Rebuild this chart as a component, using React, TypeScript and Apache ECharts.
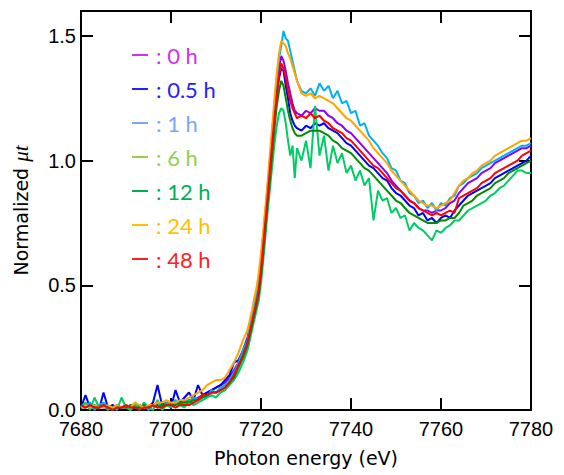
import React, { useEffect, useRef } from "react";
import * as echarts from "echarts";

// Photon energy grid (eV)
const energyPre = [7680, 7681, 7682, 7683, 7684, 7685, 7686, 7687, 7688, 7689, 7690, 7691, 7692, 7693, 7694, 7695, 7696, 7697, 7698, 7699, 7700, 7701, 7702, 7703, 7704, 7705, 7706, 7707, 7708, 7709, 7710, 7711, 7712, 7713, 7714, 7715, 7716, 7717];
const energyEdge = [7717.5, 7718, 7718.5, 7719, 7719.5, 7720, 7720.5, 7721, 7721.5, 7722, 7722.5, 7723, 7723.5, 7724, 7724.5, 7725, 7725.5, 7726, 7726.5, 7727, 7727.5, 7728];
const energyPost = [7729, 7730, 7731, 7732, 7733, 7734, 7735, 7736, 7737, 7738, 7739, 7740, 7741, 7742, 7743, 7744, 7745, 7746, 7747, 7748, 7749, 7750, 7751, 7752, 7753, 7754, 7755, 7756, 7757, 7758, 7759, 7760, 7761, 7762, 7763, 7764, 7765, 7766, 7767, 7768, 7769, 7770, 7771, 7772, 7773, 7774, 7775, 7776, 7777, 7778, 7779, 7780];
const energies = [...energyPre, ...energyEdge, ...energyPost];

const seriesNames = ["0 h", "0.5 h", "1 h", "6 h", "12 h", "24 h", "48 h"];
const lineColors = ["#8A00FF", "#0000FF", "#00B0F0", "#00CC66", "#008C00", "#FFA500", "#FF0000"];
const legendColors = ["#CC33EE", "#2222FF", "#77A6FF", "#92D050", "#00B050", "#FFC000", "#FF2020"];

const mu0h = [
  0.01, 0.02, 0.01, 0.01, 0.02, 0.01, 0.01, 0.02, 0.01, 0.01,
  0.01, 0.02, 0.01, 0.01, 0.02, 0.01, 0.02, 0.02, 0.02, 0.03,
  0.02, 0.03, 0.03, 0.03, 0.04, 0.04, 0.05, 0.06, 0.07, 0.08,
  0.09, 0.10, 0.11, 0.13, 0.16, 0.19, 0.23, 0.28,
  0.32, 0.36, 0.40, 0.44, 0.49, 0.57, 0.67, 0.77, 0.87, 0.98, 1.09, 1.20, 1.29, 1.37, 1.42, 1.40, 1.36, 1.31, 1.27, 1.23, 1.20, 1.19,
  1.18, 1.20, 1.19, 1.21, 1.20, 1.20, 1.18, 1.17, 1.15, 1.14,
  1.12, 1.11, 1.09, 1.07, 1.05, 1.03, 1.01, 0.99, 0.97, 0.95,
  0.92, 0.90, 0.88, 0.86, 0.84, 0.83, 0.81, 0.80, 0.80, 0.79,
  0.80, 0.80, 0.81, 0.83, 0.84, 0.87, 0.89, 0.91, 0.92, 0.93,
  0.95, 0.96, 0.97, 0.99, 1.00, 1.01, 1.02, 1.03, 1.04, 1.05,
  1.05, 1.06,
];
const mu05h = [
  0.01, 0.06, 0.01, 0.02, 0.00, 0.07, 0.01, 0.02, 0.00, 0.01,
  0.02, 0.00, 0.01, 0.02, 0.00, 0.01, 0.03, 0.10, 0.02, 0.03,
  0.01, 0.08, 0.03, 0.05, 0.07, 0.04, 0.10, 0.06, 0.07, 0.08,
  0.09, 0.10, 0.12, 0.14, 0.19, 0.20, 0.24, 0.29,
  0.33, 0.37, 0.41, 0.45, 0.50, 0.58, 0.68, 0.78, 0.88, 0.98, 1.08, 1.18, 1.27, 1.33, 1.37, 1.36, 1.30, 1.25, 1.19, 1.16, 1.14, 1.13,
  1.12, 1.14, 1.13, 1.15, 1.14, 1.15, 1.13, 1.12, 1.11, 1.09,
  1.07, 1.06, 1.04, 1.02, 1.00, 0.98, 0.97, 0.95, 0.93, 0.92,
  0.89, 0.87, 0.86, 0.84, 0.82, 0.81, 0.78, 0.79, 0.76, 0.77,
  0.75, 0.77, 0.78, 0.77, 0.80, 0.82, 0.84, 0.86, 0.87, 0.88,
  0.89, 0.90, 0.91, 0.93, 0.94, 0.95, 0.96, 0.97, 0.98, 0.99,
  1.00, 1.02,
];
const mu1h = [
  0.02, 0.01, 0.03, 0.00, 0.02, 0.03, 0.01, 0.00, 0.02, 0.01,
  0.02, 0.00, 0.03, 0.01, 0.02, 0.00, 0.02, 0.03, 0.01, 0.03,
  0.02, 0.04, 0.02, 0.04, 0.03, 0.05, 0.04, 0.06, 0.05, 0.08,
  0.07, 0.09, 0.10, 0.12, 0.15, 0.19, 0.24, 0.28,
  0.33, 0.37, 0.42, 0.46, 0.52, 0.60, 0.70, 0.80, 0.90, 1.00, 1.12, 1.23, 1.33, 1.41, 1.46, 1.52, 1.49, 1.48, 1.44, 1.40, 1.36, 1.32,
  1.28, 1.27, 1.29, 1.26, 1.31, 1.28, 1.30, 1.25, 1.28, 1.23,
  1.24, 1.19, 1.20, 1.14, 1.15, 1.10, 1.08, 1.06, 1.03, 1.01,
  0.97, 0.96, 0.92, 0.91, 0.87, 0.86, 0.83, 0.84, 0.81, 0.83,
  0.80, 0.83, 0.82, 0.85, 0.86, 0.90, 0.91, 0.93, 0.94, 0.95,
  0.97, 0.98, 0.99, 1.00, 1.01, 1.02, 1.03, 1.04, 1.05, 1.06,
  1.06, 1.07,
];
const mu6h = [
  0.01, 0.03, 0.00, 0.05, 0.01, 0.02, 0.00, 0.01, 0.00, 0.05,
  0.01, 0.00, 0.02, 0.00, 0.03, 0.01, 0.00, 0.04, 0.00, 0.02,
  0.01, 0.03, 0.02, 0.01, 0.04, 0.02, 0.03, 0.04, 0.05, 0.06,
  0.05, 0.07, 0.08, 0.10, 0.12, 0.15, 0.19, 0.24,
  0.28, 0.32, 0.36, 0.40, 0.44, 0.51, 0.60, 0.70, 0.80, 0.89, 0.98, 1.07, 1.14, 1.19, 1.21, 1.20, 1.15, 1.08, 1.02, 1.06, 0.93, 1.05,
  1.00, 1.08, 0.97, 1.22, 1.02, 1.10, 0.96, 1.06, 0.99, 1.03,
  0.95, 0.98, 0.92, 0.96, 0.90, 0.93, 0.76, 0.88, 0.84, 0.85,
  0.79, 0.81, 0.77, 0.78, 0.72, 0.75, 0.73, 0.72, 0.70, 0.68,
  0.72, 0.71, 0.73, 0.74, 0.76, 0.76, 0.78, 0.80, 0.81, 0.82,
  0.83, 0.84, 0.86, 0.87, 0.89, 0.90, 0.92, 0.94, 0.96, 0.96,
  0.95, 0.95,
];
const mu12h = [
  0.01, 0.01, 0.02, 0.01, 0.01, 0.02, 0.01, 0.01, 0.02, 0.01,
  0.01, 0.02, 0.01, 0.01, 0.02, 0.01, 0.02, 0.01, 0.02, 0.02,
  0.02, 0.02, 0.03, 0.03, 0.03, 0.04, 0.04, 0.05, 0.06, 0.07,
  0.07, 0.08, 0.09, 0.11, 0.13, 0.17, 0.21, 0.26,
  0.30, 0.34, 0.38, 0.42, 0.46, 0.54, 0.63, 0.73, 0.83, 0.93, 1.03, 1.13, 1.22, 1.28, 1.32, 1.30, 1.25, 1.20, 1.16, 1.13, 1.11, 1.10,
  1.10, 1.11, 1.12, 1.12, 1.12, 1.11, 1.10, 1.08, 1.07, 1.05,
  1.04, 1.03, 1.01, 0.99, 0.97, 0.96, 0.94, 0.92, 0.90, 0.88,
  0.86, 0.84, 0.83, 0.81, 0.79, 0.78, 0.77, 0.76, 0.75, 0.75,
  0.75, 0.76, 0.76, 0.77, 0.77, 0.79, 0.82, 0.83, 0.84, 0.86,
  0.87, 0.88, 0.89, 0.91, 0.92, 0.93, 0.95, 0.96, 0.97, 0.98,
  0.99, 1.00,
];
const mu24h = [
  0.01, 0.02, 0.01, 0.02, 0.01, 0.01, 0.02, 0.01, 0.02, 0.01,
  0.02, 0.01, 0.03, 0.02, 0.01, 0.02, 0.02, 0.03, 0.03, 0.04,
  0.03, 0.03, 0.04, 0.04, 0.05, 0.06, 0.07, 0.08, 0.10, 0.11,
  0.12, 0.12, 0.13, 0.16, 0.19, 0.23, 0.28, 0.32,
  0.36, 0.40, 0.45, 0.49, 0.55, 0.63, 0.72, 0.82, 0.92, 1.03, 1.14, 1.25, 1.35, 1.43, 1.48, 1.47, 1.46, 1.43, 1.41, 1.38, 1.35, 1.32,
  1.27, 1.26, 1.27, 1.25, 1.26, 1.25, 1.24, 1.23, 1.21, 1.19,
  1.17, 1.16, 1.14, 1.12, 1.10, 1.08, 1.05, 1.03, 1.01, 0.99,
  0.96, 0.94, 0.92, 0.90, 0.88, 0.86, 0.84, 0.83, 0.82, 0.82,
  0.81, 0.82, 0.83, 0.84, 0.87, 0.90, 0.92, 0.93, 0.95, 0.96,
  0.98, 0.99, 1.00, 1.02, 1.03, 1.04, 1.05, 1.06, 1.07, 1.08,
  1.08, 1.09,
];
const mu48h = [
  0.02, 0.01, 0.02, 0.01, 0.01, 0.02, 0.01, 0.00, 0.01, 0.01,
  0.02, 0.01, 0.01, 0.00, 0.01, 0.01, 0.02, 0.01, 0.01, 0.02,
  0.02, 0.01, 0.02, 0.02, 0.02, 0.03, 0.04, 0.06, 0.06, 0.07,
  0.07, 0.08, 0.09, 0.11, 0.14, 0.18, 0.22, 0.27,
  0.31, 0.35, 0.39, 0.43, 0.48, 0.56, 0.66, 0.76, 0.86, 0.97, 1.07, 1.17, 1.26, 1.34, 1.39, 1.37, 1.33, 1.28, 1.24, 1.21, 1.19, 1.17,
  1.18, 1.17, 1.19, 1.17, 1.18, 1.16, 1.15, 1.13, 1.12, 1.11,
  1.09, 1.08, 1.06, 1.04, 1.02, 1.00, 0.98, 0.97, 0.95, 0.93,
  0.91, 0.89, 0.88, 0.86, 0.84, 0.83, 0.81, 0.80, 0.79, 0.78,
  0.79, 0.78, 0.79, 0.80, 0.79, 0.85, 0.86, 0.87, 0.88, 0.89,
  0.91, 0.92, 0.93, 0.95, 0.96, 0.97, 0.98, 0.99, 1.00, 1.02,
  1.03, 1.04,
];
const seriesValues = [mu0h, mu05h, mu1h, mu6h, mu12h, mu24h, mu48h];

const xTicks = { min: 7680, max: 7780, interval: 20 };
const yTicks = { min: 0, max: 1.6, interval: 0.5, lastLabel: 1.5 };

const AXIS_FONT = "'Liberation Sans', Arial, sans-serif";
const NAME_FONT = "'DejaVu Sans', sans-serif";

export default function App() {
  const ref = useRef<HTMLDivElement>(null);
  useEffect(() => {
    if (!ref.current) return;
    const chart = echarts.init(ref.current, undefined, { renderer: "svg" });
    const axisLine = { show: true, onZero: false, lineStyle: { color: "#000", width: 2 } };
    const axisTick = { show: true, inside: true, length: 12, lineStyle: { color: "#000", width: 2 } };
    chart.setOption({
      animation: false,
      backgroundColor: "#fff",
      grid: { left: 81, right: 33, top: 11, bottom: 65, containLabel: false },
      legend: {
        orient: "vertical",
        left: 127,
        top: 39,
        itemWidth: 16,
        itemHeight: 2,
        itemGap: 12,
        selectedMode: false,
        icon: "rect",
        formatter: (n: string) => ": " + n,
        textStyle: { fontFamily: "Lato, 'Open Sans', sans-serif", fontSize: 22, lineHeight: 22, padding: [0, 0, 0, 3] },
        data: seriesNames.map((n, i) => ({
          name: n,
          itemStyle: { color: legendColors[i] },
          textStyle: { color: legendColors[i] },
        })),
      },
      xAxis: [
        {
          type: "value",
          min: xTicks.min,
          max: xTicks.max,
          interval: xTicks.interval,
          position: "bottom",
          axisLine,
          axisTick,
          splitLine: { show: false },
          axisLabel: {
            color: "#000",
            fontSize: 20,
            lineHeight: 18,
            fontFamily: AXIS_FONT,
            margin: 10,
            formatter: (v: number) => String(v),
          },
          name: "Photon energy (eV)",
          nameLocation: "middle",
          nameGap: 38,
          nameTextStyle: { color: "#000", fontSize: 19, fontFamily: NAME_FONT },
        },
        {
          type: "value",
          min: xTicks.min,
          max: xTicks.max,
          interval: xTicks.interval,
          position: "top",
          axisLine,
          axisTick,
          splitLine: { show: false },
          axisLabel: { show: false },
        },
      ],
      yAxis: [
        {
          type: "value",
          min: yTicks.min,
          max: yTicks.max,
          interval: yTicks.interval,
          position: "left",
          axisLine,
          axisTick,
          splitLine: { show: false },
          axisLabel: {
            color: "#000",
            fontSize: 20,
            lineHeight: 16,
            fontFamily: AXIS_FONT,
            margin: 5,
            formatter: (v: number) => (v > yTicks.lastLabel + 0.01 ? "" : v.toFixed(1)),
          },
          name: "Normalized {i|μt}",
          nameLocation: "middle",
          nameGap: 50,
          nameTextStyle: {
            color: "#000",
            fontSize: 19,
            fontFamily: NAME_FONT,
            rich: {
              i: { fontStyle: "italic", fontFamily: "'Liberation Serif', serif", fontSize: 21, color: "#000" },
            },
          },
        },
        {
          type: "value",
          min: yTicks.min,
          max: yTicks.max,
          interval: yTicks.interval,
          position: "right",
          axisLine,
          axisTick,
          splitLine: { show: false },
          axisLabel: { show: false },
        },
      ],
      series: seriesNames.map((n, i) => ({
        name: n,
        type: "line",
        xAxisIndex: 0,
        yAxisIndex: 0,
        showSymbol: false,
        symbol: "none",
        clip: true,
        color: lineColors[i],
        lineStyle: { color: lineColors[i], width: 2 },
        data: energies.map((e, k) => [e, seriesValues[i][k]]),
      })),
    });
    return () => chart.dispose();
  }, []);
  return <div ref={ref} style={{ position: "absolute", left: 0, top: 0, width: 564, height: 475 }} />;
}
